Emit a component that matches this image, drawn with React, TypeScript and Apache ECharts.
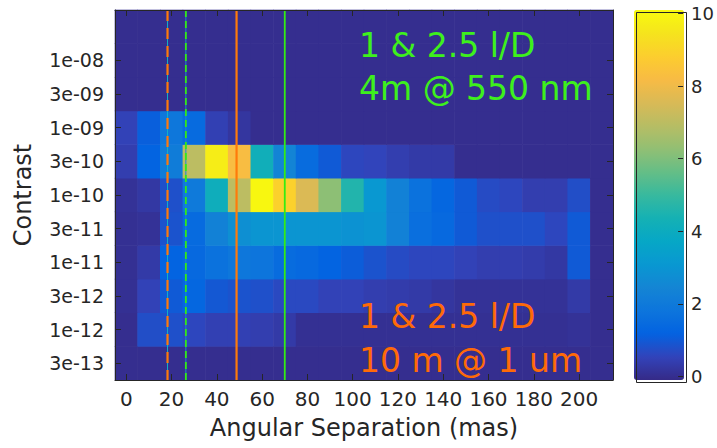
import React, { useEffect, useRef } from 'react';
import * as echarts from 'echarts';

// Angular separation bin centres (mas)
const xCenters = [0, 10, 20, 30, 40, 50, 60, 70, 80, 90, 100, 110, 120, 130, 140, 150, 160, 170, 180, 190, 200, 210];
// Contrast bins, bottom to top (top bin's label is not shown)
const contrastLabels = ['3e-13', '1e-12', '3e-12', '1e-11', '3e-11', '1e-10', '3e-10', '1e-09', '3e-09', '1e-08', '3e-08'];
const xTicks = [0, 20, 40, 60, 80, 100, 120, 140, 160, 180, 200];
const colorbarTicks = [0, 2, 4, 6, 8, 10];

// Counts per contrast row (one value per angular bin)
const row3e13 = [0, 0, 0, 0, 0, 0, 0, 0, 0, 0, 0, 0, 0, 0, 0, 0, 0, 0, 0, 0, 0, 0];
const row1e12 = [0, 0.75, 0.8, 0.6, 0.45, 0.45, 0.4, 0.3, 0.05, 0.05, 0.05, 0.05, 0.05, 0.05, 0.05, 0.05, 0.05, 0.05, 0.05, 0.05, 0.1, 0];
const row3e12 = [0.05, 0.5, 1.0, 1.3, 0.95, 0.85, 0.8, 0.65, 0.65, 0.5, 0.5, 0.4, 0.35, 0.3, 0.2, 0.1, 0.1, 0.1, 0.1, 0.1, 0.3, 0];
const row1e11 = [0.05, 0.3, 1.2, 1.4, 1.7, 1.9, 1.8, 1.5, 1.4, 1.2, 1.05, 0.85, 0.7, 0.6, 0.6, 0.5, 0.4, 0.4, 0.35, 0.25, 1.0, 0];
const row3e11 = [0.05, 0.1, 0.85, 1.45, 2.3, 2.8, 3.0, 3.0, 3.0, 3.0, 2.9, 3.0, 2.3, 1.6, 1.4, 1.0, 0.8, 0.8, 0.8, 0.6, 1.0, 0];
const row1e10 = [0.1, 0.25, 0.8, 2.0, 4.1, 7.0, 10.0, 8.9, 7.6, 6.2, 4.6, 3.1, 2.3, 1.7, 1.3, 1.0, 0.7, 0.6, 0.4, 0.4, 0.75, 0];
const row3e10 = [0.4, 1.2, 2.1, 7.0, 9.7, 8.25, 4.2, 2.4, 1.5, 1.0, 0.6, 0.55, 0.4, 0.3, 0.3, 0, 0, 0, 0, 0, 0, 0];
const row1e09 = [0.5, 1.1, 1.9, 1.45, 0.45, 0.2, 0, 0, 0, 0, 0, 0, 0, 0, 0, 0, 0, 0, 0, 0, 0, 0];
const row3e09 = [0, 0, 0, 0, 0, 0, 0, 0, 0, 0, 0, 0, 0, 0, 0, 0, 0, 0, 0, 0, 0, 0];
const row1e08 = [0, 0, 0, 0, 0, 0, 0, 0, 0, 0, 0, 0, 0, 0, 0, 0, 0, 0, 0, 0, 0, 0];
const row3e08 = [0, 0, 0, 0, 0, 0, 0, 0, 0, 0, 0, 0, 0, 0, 0, 0, 0, 0, 0, 0, 0, 0];
const rows = [row3e13, row1e12, row3e12, row1e11, row3e11, row1e10, row3e10, row1e09, row3e09, row1e08, row3e08];

// 1 and 2.5 lambda/D separations (mas)
const lines10m1um = [18.2, 48.7];
const lines4m550nm = [26.3, 70.0];

const parula = [
  '#352a87', '#3243ba', '#0363e1', '#0d75dc', '#1485d4', '#0998d1', '#06a7c6', '#15b1b4',
  '#38b99e', '#65be86', '#92bf73', '#b7bd64', '#d9ba56', '#f8bb44', '#fcce2e', '#f5e41d', '#f9fb0e',
];

const FONT = '"DejaVu Sans", sans-serif';
const INK = '#262626';
const ORANGE_LINE = '#ff7a0a';
const ORANGE_TEXT = '#ff6a08';
const GREEN_LINE = '#33ec14';
const GREEN_TEXT = '#3ef01c';

export default function App() {
  const ref = useRef<HTMLDivElement>(null);

  useEffect(() => {
    if (!ref.current) return;
    const chart = echarts.init(ref.current, null, { renderer: 'svg' });

    const cells: number[][] = [];
    rows.forEach((row, yi) => {
      row.forEach((v, xi) => {
        cells.push([xCenters[xi], yi, v]);
      });
    });

    const lineData: any[] = [];
    lines10m1um.forEach((x, i) => lineData.push({ value: [x, 0], kind: i === 0 ? 'od' : 'os' }));
    lines4m550nm.forEach((x, i) => lineData.push({ value: [x, 0], kind: i === 0 ? 'gd' : 'gs' }));
    const kinds = lineData.map((d) => d.kind);

    const tickOn = (i: number) => i < contrastLabels.length - 1;

    const option: any = {
      animation: false,
      backgroundColor: '#ffffff',
      textStyle: { fontFamily: FONT },
      grid: [
        { left: 115, top: 10, width: 498, height: 370, containLabel: false },
        { left: 634, top: 10, width: 50, height: 370, containLabel: false },
      ],
      xAxis: [
        {
          gridIndex: 0,
          type: 'value',
          min: -5,
          max: 215,
          position: 'bottom',
          z: 10,
          axisLine: { show: true, onZero: false, lineStyle: { color: INK, width: 1 } },
          axisTick: { show: true, inside: true, length: 6, customValues: xTicks, lineStyle: { color: INK } },
          axisLabel: { customValues: xTicks, margin: 9, fontSize: 20, color: INK, fontFamily: FONT },
          splitLine: { show: false },
          name: 'Angular Separation (mas)',
          nameLocation: 'middle',
          nameGap: 36,
          nameTextStyle: { fontSize: 24, color: INK, fontFamily: FONT },
        },
        {
          gridIndex: 0,
          type: 'value',
          min: -5,
          max: 215,
          position: 'top',
          z: 10,
          axisLine: { show: true, onZero: false, lineStyle: { color: INK, width: 1 } },
          axisTick: { show: true, inside: true, length: 6, customValues: xTicks, lineStyle: { color: INK } },
          axisLabel: { show: false },
          splitLine: { show: false },
        },
        { gridIndex: 1, type: 'value', min: 0, max: 1, show: false },
      ],
      yAxis: [
        {
          gridIndex: 0,
          type: 'category',
          data: contrastLabels,
          boundaryGap: true,
          position: 'left',
          z: 10,
          axisLine: { show: true, onZero: false, lineStyle: { color: INK, width: 1 } },
          axisTick: {
            show: true,
            inside: true,
            length: 6,
            alignWithLabel: true,
            interval: tickOn,
            lineStyle: { color: INK },
          },
          axisLabel: {
            interval: tickOn,
            margin: 11,
            fontSize: 19,
            color: INK,
            fontFamily: FONT,
          },
          splitLine: { show: false },
          name: 'Contrast',
          nameLocation: 'middle',
          nameGap: 80,
          nameTextStyle: { fontSize: 24, color: INK, fontFamily: FONT },
        },
        {
          gridIndex: 0,
          type: 'category',
          data: contrastLabels,
          boundaryGap: true,
          position: 'right',
          z: 10,
          axisLine: { show: true, onZero: false, lineStyle: { color: INK, width: 1 } },
          axisTick: {
            show: true,
            inside: true,
            length: 6,
            alignWithLabel: true,
            interval: tickOn,
            lineStyle: { color: INK },
          },
          axisLabel: { show: false },
          splitLine: { show: false },
        },
        {
          gridIndex: 1,
          type: 'value',
          min: -0.1,
          max: 10.1,
          position: 'right',
          z: 10,
          axisLine: { show: false, onZero: false },
          axisTick: { show: true, inside: true, length: 5, customValues: colorbarTicks, lineStyle: { color: INK } },
          axisLabel: { customValues: colorbarTicks, margin: 8, fontSize: 18, color: INK, fontFamily: FONT },
          splitLine: { show: false },
        },
      ],
      visualMap: {
        type: 'continuous',
        min: -0.1,
        max: 10.1,
        dimension: 2,
        seriesIndex: 0,
        calculable: false,
        hoverLink: false,
        realtime: false,
        left: 634,
        top: 10,
        padding: 0,
        itemWidth: 50,
        itemHeight: 370,
        text: null,
        showLabel: false,
        inRange: { color: parula },
      },
      series: [
        {
          type: 'custom',
          name: 'counts',
          xAxisIndex: 0,
          yAxisIndex: 0,
          z: 2,
          silent: true,
          encode: { x: 0, y: 1 },
          renderItem: (params: any, api: any) => {
            const c = api.coord([api.value(0), api.value(1)]);
            const s = api.size([10, 1], [api.value(0), api.value(1)]);
            return {
              type: 'rect',
              shape: { x: c[0] - s[0] / 2 - 0.3, y: c[1] - s[1] / 2 - 0.3, width: s[0] + 0.6, height: s[1] + 0.6 },
              style: { fill: api.visual('color') },
            };
          },
          data: cells,
        },
        {
          type: 'custom',
          name: 'lambda/D',
          xAxisIndex: 0,
          yAxisIndex: 0,
          z: 3,
          silent: true,
          encode: { x: 0, y: 1 },
          renderItem: (params: any, api: any) => {
            const x = api.coord([api.value(0), 0])[0];
            const cs = params.coordSys;
            const kind = kinds[params.dataIndex];
            const isOrange = kind[0] === 'o';
            const dashed = kind[1] === 'd';
            const children: any[] = [];
            if (dashed) {
              children.push({
                type: 'line',
                shape: { x1: x, y1: cs.y, x2: x, y2: cs.y + cs.height },
                style: { stroke: isOrange ? '#12b0c8' : '#1f86d2', lineWidth: 1 },
              });
            }
            children.push({
              type: 'line',
              shape: { x1: x, y1: cs.y, x2: x, y2: cs.y + cs.height },
              style: {
                stroke: isOrange ? ORANGE_LINE : GREEN_LINE,
                lineWidth: isOrange ? 2.2 : 1.8,
                lineDash: dashed ? (isOrange ? [11, 7] : [7, 4]) : null,
              },
            });
            return { type: 'group', children };
          },
          data: lineData,
        },
      ],
      graphic: [
        {
          type: 'rect',
          left: 634,
          top: 10,
          z: 20,
          shape: { width: 50, height: 370 },
          style: { fill: 'none', stroke: INK, lineWidth: 1 },
          silent: true,
        },
        {
          type: 'text',
          x: 359,
          y: 24,
          z: 20,
          style: {
            text: '1 & 2.5 l/D\n4m @ 550 nm',
            fill: GREEN_TEXT,
            font: `33px ${FONT}`,
            lineHeight: 43,
            verticalAlign: 'top',
            align: 'left',
          },
          silent: true,
        },
        {
          type: 'text',
          x: 359,
          y: 294,
          z: 20,
          style: {
            text: '1 & 2.5 l/D\n10 m @ 1 um',
            fill: ORANGE_TEXT,
            font: `33px ${FONT}`,
            lineHeight: 44,
            verticalAlign: 'top',
            align: 'left',
          },
          silent: true,
        },
      ],
    };

    chart.setOption(option);
    return () => {
      chart.dispose();
    };
  }, []);

  return (
    <div
      ref={ref}
      style={{ position: 'fixed', left: 0, top: 0, width: 717, height: 448, background: '#fff' }}
    />
  );
}
